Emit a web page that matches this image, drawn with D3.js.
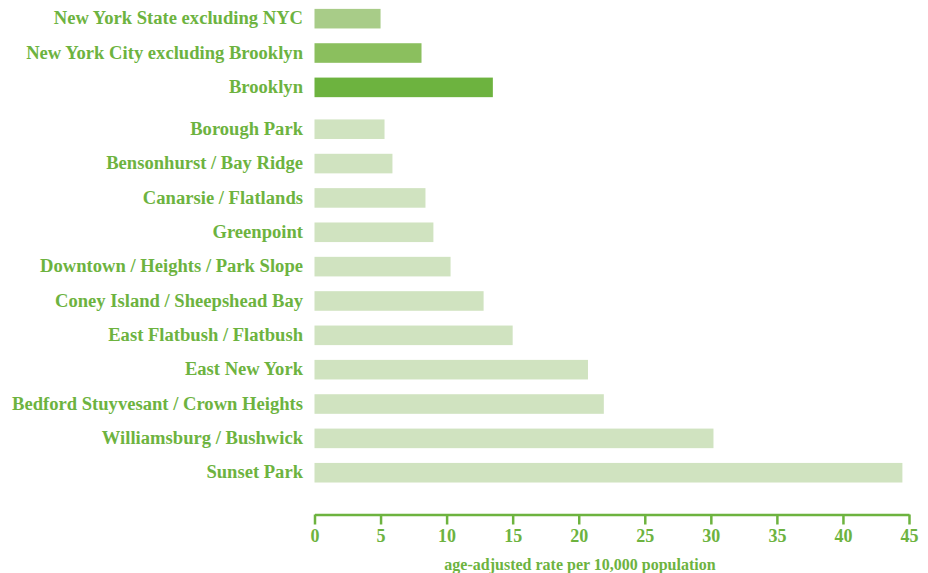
<!DOCTYPE html>
<html lang="en">
<head>
  <meta charset="UTF-8">
  <title>Age-adjusted rate per 10,000 population</title>
  <script src="https://d3js.org/d3.v7.min.js"></script>
  <style>
    body {
      margin: 0;
      padding: 0;
      background: #fff;
      font-family: "Liberation Serif", "DejaVu Serif", serif;
    }
    .label { fill: #6db33f; font-size: 18.6px; font-weight: bold; }
    .axis-title { fill: #6db33f; font-size: 16px; font-weight: bold; }
  </style>
</head>
<body>
  <div id="chart"></div>
  <script>
    // summary rows, then Brooklyn neighborhoods
    const summaryNames = ["New York State excluding NYC", "New York City excluding Brooklyn", "Brooklyn"];
    const summaryValues = [5.0, 8.1, 13.5];
    const summaryColors = ["#a8cc88", "#8bbf5e", "#6db33f"];

    const hoodNames = [
      "Borough Park", "Bensonhurst / Bay Ridge", "Canarsie / Flatlands", "Greenpoint",
      "Downtown / Heights / Park Slope", "Coney Island / Sheepshead Bay", "East Flatbush / Flatbush",
      "East New York", "Bedford Stuyvesant / Crown Heights", "Williamsburg / Bushwick", "Sunset Park"
    ];
    const hoodValues = [5.3, 5.9, 8.4, 9.0, 10.3, 12.8, 15.0, 20.7, 21.9, 30.2, 44.5];

    const xTicks = [0, 5, 10, 15, 20, 25, 30, 35, 40, 45];
    const axisTitle = "age-adjusted rate per 10,000 population";

    const W = 928, H = 573;
    const x0 = 314.5, x1 = 909;
    const groupGap = 7.5;

    const rows = summaryNames.map((n, i) => ({ name: n, value: summaryValues[i], color: summaryColors[i], group: 0 }))
      .concat(hoodNames.map((n, i) => ({ name: n, value: hoodValues[i], color: "#d0e3c0", group: 1 })));

    const svg = d3.select("#chart").append("svg")
      .attr("width", W).attr("height", H);

    const x = d3.scaleLinear().domain([0, 45]).range([x0, x1]);

    const y = d3.scaleBand()
      .domain(rows.map(d => d.name))
      .range([1.5, 1.5 + rows.length * 34.35])
      .paddingInner(0.43)
      .paddingOuter(0.215);

    const yPos = d => y(d.name) + (d.group ? groupGap : 0);

    svg.selectAll(".bar")
      .data(rows)
      .enter().append("rect")
      .attr("class", "bar")
      .attr("x", x(0))
      .attr("y", yPos)
      .attr("width", d => x(d.value) - x(0))
      .attr("height", y.bandwidth())
      .attr("fill", d => d.color);

    svg.selectAll(".label")
      .data(rows)
      .enter().append("text")
      .attr("class", "label")
      .attr("x", 303)
      .attr("y", d => yPos(d) + y.bandwidth() / 2)
      .attr("dy", "0.3em")
      .attr("text-anchor", "end")
      .text(d => d.name);

    const axis = svg.append("g")
      .attr("transform", "translate(0,514.5)")
      .call(d3.axisBottom(x).tickValues(xTicks).tickSize(10).tickSizeOuter(0).tickPadding(5));

    axis.attr("font-family", '"Liberation Serif", serif')
      .attr("font-size", 18)
      .attr("font-weight", "bold");
    axis.select(".domain").attr("stroke", "#6db33f").attr("stroke-width", 2.5);
    axis.selectAll(".tick line").attr("stroke", "#6db33f").attr("stroke-width", 2.5);
    axis.selectAll(".tick text").attr("fill", "#6db33f");

    svg.append("text")
      .attr("class", "axis-title")
      .attr("x", 580)
      .attr("y", 570)
      .attr("text-anchor", "middle")
      .text(axisTitle);
  </script>
</body>
</html>
